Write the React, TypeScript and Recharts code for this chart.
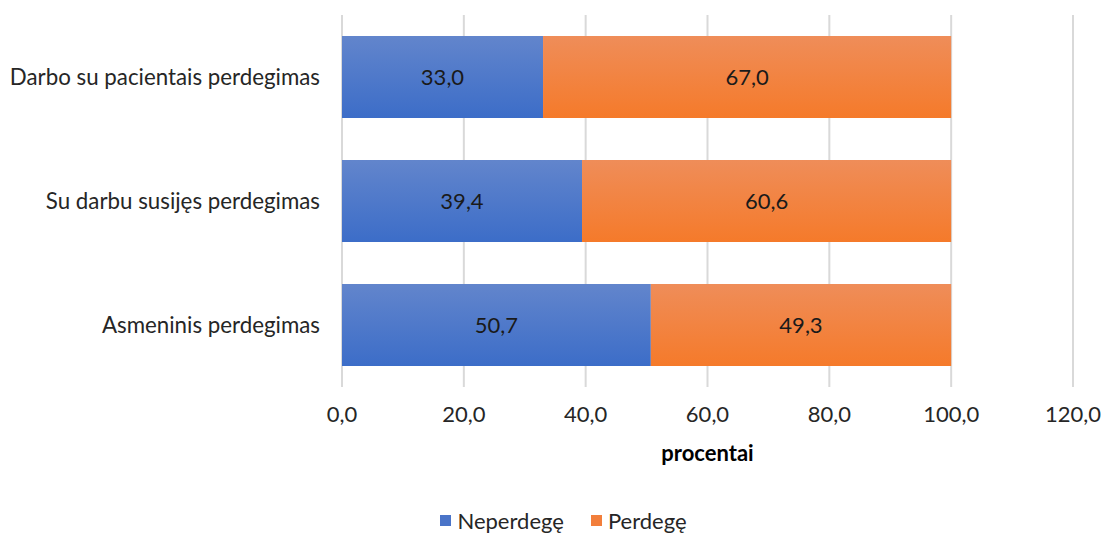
import React from 'react';
import { BarChart, Bar, XAxis, YAxis, CartesianGrid, LabelList, Legend } from 'recharts';

const categories = ['Darbo su pacientais perdegimas', 'Su darbu susijęs perdegimas', 'Asmeninis perdegimas'];
const neperdege = [33.0, 39.4, 50.7];
const perdege = [67.0, 60.6, 49.3];
const xTicks = [0, 20, 40, 60, 80, 100, 120];
const seriesNames = ['Neperdegę', 'Perdegę'];

const data = categories.map((name, i) => ({ name, a: neperdege[i], b: perdege[i] }));

const FONT = 'Lato, "Open Sans", sans-serif';
const FS = 22;
const fmt = (v: any) => Number(v).toFixed(1).replace('.', ',');

const legendContent = () => (
  <div style={{ display: 'flex', justifyContent: 'center', alignItems: 'center', height: 30, fontFamily: FONT, fontSize: FS, color: '#262626', paddingLeft: 54 }}>
    <span style={{ display: 'inline-block', width: 11, height: 11, background: '#4a74c8', marginRight: 6 }} />
    <span style={{ marginRight: 27 }}>{seriesNames[0]}</span>
    <span style={{ display: 'inline-block', width: 11, height: 11, background: '#f27e3b', marginRight: 6 }} />
    <span>{seriesNames[1]}</span>
  </div>
);

export default function App() {
  return (
    <div style={{ position: 'absolute', left: 0, top: 0, width: 1104, height: 535, background: '#fff' }}>
      <BarChart
        width={1104}
        height={535}
        data={data}
        layout="vertical"
        margin={{ top: 15, right: 31, bottom: 0, left: 0 }}
        barCategoryGap="17%"
      >
        <defs>
          <linearGradient id="gBlue" x1="0" y1="0" x2="0" y2="1">
            <stop offset="0%" stopColor="#6285cc" />
            <stop offset="100%" stopColor="#3c6dc8" />
          </linearGradient>
          <linearGradient id="gOrange" x1="0" y1="0" x2="0" y2="1">
            <stop offset="0%" stopColor="#ef8d59" />
            <stop offset="100%" stopColor="#f57a2a" />
          </linearGradient>
        </defs>
        <CartesianGrid horizontal={false} vertical={true} stroke="#d9d9d9" strokeWidth={2} />
        <XAxis
          type="number"
          domain={[0, 120]}
          ticks={xTicks}
          tickFormatter={fmt}
          axisLine={false}
          tickLine={false}
          height={118}
          tickMargin={13}
          tick={{ fontFamily: FONT, fontSize: FS, fill: '#262626' }}
          label={{ value: 'procentai', position: 'insideTop', offset: 58, style: { fontFamily: FONT, fontSize: FS, fontWeight: 'bold', fill: '#000' } }}
        />
        <YAxis
          type="category"
          dataKey="name"
          width={342}
          axisLine={false}
          tickLine={false}
          tickMargin={16}
          tick={{ fontFamily: FONT, fontSize: 22.3, fill: '#262626' }}
        />
        <Legend verticalAlign="bottom" content={legendContent} />
        <Bar dataKey="a" name={seriesNames[0]} stackId="s" fill="url(#gBlue)" isAnimationActive={false}>
          <LabelList dataKey="a" position="center" formatter={fmt} style={{ fontFamily: FONT, fontSize: FS, fill: '#1a1a1a' }} />
        </Bar>
        <Bar dataKey="b" name={seriesNames[1]} stackId="s" fill="url(#gOrange)" isAnimationActive={false}>
          <LabelList dataKey="b" position="center" formatter={fmt} style={{ fontFamily: FONT, fontSize: FS, fill: '#1a1a1a' }} />
        </Bar>
      </BarChart>
    </div>
  );
}
